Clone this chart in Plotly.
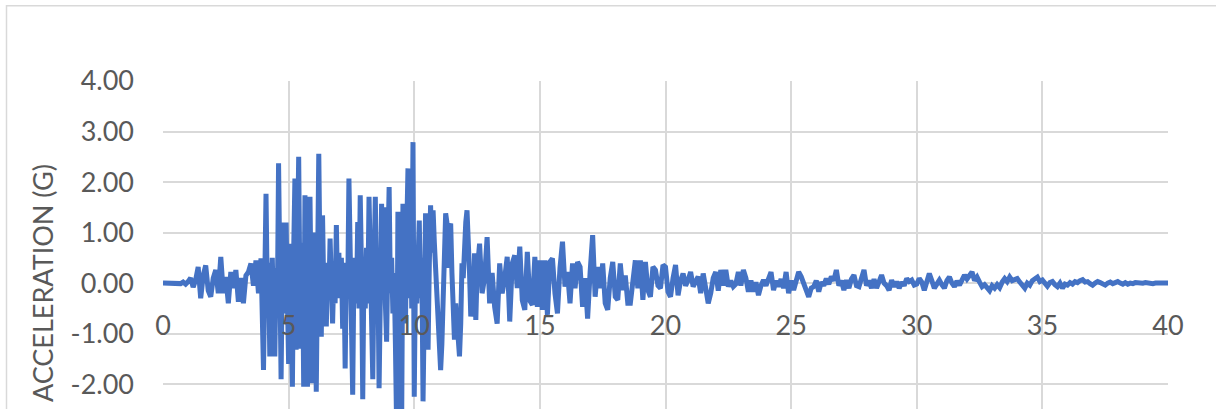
import numpy as np
import plotly.graph_objects as go

# Ground acceleration record (g). Each part has its own start time and sampling interval.
ONSET_START, ONSET_DT = 0.0, 0.1
onset_accel = [
    0.00, 0.00, 0.00, 0.00, 0.01, 0.00, 0.01, -0.01, 0.02, -0.02,
    0.03, 0.10, -0.08, 0.06, 0.32, -0.30, 0.15, 0.35, -0.15, -0.27,
    0.10, 0.26, -0.20, 0.52, -0.20, 0.12, -0.40, 0.22, -0.10, 0.26,
    -0.37, 0.10, -0.40, 0.15, 0.22, 0.39, -0.05, 0.45, -0.20, 0.49,
]

STRONG_START, STRONG_DT = 4.0, 0.05
strong_accel = [
    -1.72, 0.30, 1.77, -0.20, 0.40, -1.45, 0.20, 0.50, -0.60, -1.45,
    0.30, -0.50, 2.37, 0.20, -1.90, 0.40, 1.20, -0.60, 1.20, -0.30,
    -1.60, 0.78, -0.50, -2.05, 0.60, 2.07, -1.32, 0.40, 2.50, -0.30,
    -1.30, 0.80, -2.05, 1.74, 0.20, -2.05, 0.50, 1.71, -0.40, -1.98,
    1.00, 0.10, -2.15, 0.50, 2.56, 0.30, -1.06, 1.34, -0.20, 0.40,
    -0.86, 0.30, -0.30, 0.88, -0.20, -0.80, 0.20, -0.40, 1.15, -0.20,
    0.60, -0.30, 0.50, -0.90, 0.30, -1.69, 0.40, -0.30, 2.07, 0.20,
    -0.90, -2.21, 0.30, 0.50, -0.40, 1.21, -0.50, 1.74, 0.30, -2.30,
    0.40, -0.50, 0.70, -0.40, 1.71, 0.20, -0.60, -1.90, 0.30, 1.71,
    -0.20, 0.40, -2.08, 0.50, 1.57, -0.30, 1.50, -0.40, -1.16, 0.60,
    1.90, -0.20, 0.50, -0.60, 0.20, -1.20, -2.90, 1.41, -0.30, 0.60,
    -2.70, 1.57, -0.20, -0.80, 1.00, 2.27, -0.30, 1.30, -0.50, 2.79,
    -2.25, 0.30, -0.40, 1.11, 1.24, -0.30, 0.50, -2.34, 0.20, 1.38,
    0.10, -1.32, 0.40, 1.54, 0.60, 1.44, 0.80, 0.20, -0.50, -1.00,
    -1.40, -1.72, -1.20, -0.30, 0.60, 1.38, 1.20, 0.30, 1.10, 1.18,
    0.20, -0.60, -1.12, -0.40, -0.90, -1.20, -1.45, -0.80, 0.39, 0.10,
    0.80, 1.20, 1.44, 1.00, 0.20, -0.66, -0.30, -0.66, 0.59, -0.73,
]

CODA_START, CODA_DT = 12.5, 0.1
coda_accel = [
    0.20, 0.78, -0.20, 0.10, 0.91,
    -0.40, 0.20, -0.47, -0.80, 0.39, -0.20, 0.10, 0.52, -0.76, 0.39,
    0.55, -0.10, 0.72, -0.34, -0.53, 0.62, -0.35, -0.43, 0.52, -0.47,
    0.45, -0.53, 0.45, -0.63, 0.42, 0.49, -0.20, -0.60, 0.30, 0.82,
    -0.07, 0.22, -0.40, 0.39, -0.10, 0.42, 0.32, -0.47, 0.10, -0.70,
    0.22, 0.95, -0.27, 0.32, -0.10, 0.39, -0.40, -0.53, 0.10, 0.42,
    -0.27, -0.33, 0.39, -0.14, 0.15, -0.40, -0.40, 0.10, 0.45, -0.10,
    0.45, -0.33, 0.42, -0.14, -0.27, 0.32, 0.26, -0.05, -0.10, 0.36,
    0.32, -0.17, -0.27, 0.10, 0.36, -0.24, 0.05, 0.19, -0.05, 0.06,
    0.22, -0.07, 0.05, 0.13, -0.20, 0.19, -0.10, -0.40, -0.20, 0.10,
    0.22, -0.15, 0.26, -0.05, 0.26, -0.07, 0.05, -0.07, -0.02, 0.22,
    -0.05, 0.26, 0.10, -0.17, 0.05, -0.17, 0.02, -0.24, -0.05, 0.06,
    -0.05, 0.12, 0.22, -0.14, 0.05, -0.07, 0.08, -0.10, 0.22, -0.20,
    0.05, -0.14, 0.10, 0.22, 0.13, -0.05, -0.14, -0.27, -0.10, -0.07,
    0.05, -0.17, 0.02, -0.05, 0.09, -0.02, 0.13, 0.05, 0.26, -0.05,
    0.05, -0.14, 0.06, -0.10, 0.08, 0.16, -0.05, -0.07, 0.10, 0.26,
    -0.05, 0.05, -0.10, 0.08, -0.10, 0.05, 0.16, 0.00, -0.05, -0.14,
    0.06, -0.07, 0.03, -0.10, 0.02, -0.05, 0.09, 0.03, 0.06, -0.04,
    -0.02, 0.09, 0.02, -0.14, 0.03, 0.19, 0.05, -0.10, -0.02, 0.06,
    -0.03, -0.10, 0.05, 0.12, 0.00, -0.07, 0.04, -0.04, 0.06, 0.16,
    0.08, 0.15, 0.22, 0.05, 0.12, 0.02, -0.07, -0.03, -0.10, -0.15,
    -0.05, -0.10, -0.03, -0.09, 0.02, 0.09, 0.03, 0.12, 0.05, 0.07,
    0.09, 0.02, -0.05, -0.10, 0.00, -0.04, 0.05, 0.08, 0.12, 0.03,
    0.06, 0.00, -0.06, 0.01, 0.03, -0.03, -0.07, 0.00, -0.10, -0.02,
    -0.04, 0.01, -0.02, 0.03, 0.01, 0.05, 0.07, 0.02, 0.03, -0.01,
    -0.04, 0.00, 0.03, 0.01, -0.02, -0.04, 0.00, 0.02, -0.01, 0.01,
    0.03, 0.00, -0.02, 0.01, -0.02, 0.00, -0.01, 0.01, 0.00, 0.00,
    0.00, 0.01, 0.00, 0.00, -0.01, 0.00, 0.00, 0.00, 0.00, 0.00,
    0.00,
]

x_tick_vals = [0, 5, 10, 15, 20, 25, 30, 35, 40]
x_tick_text = ["0", "5", "10", "15", "20", "25", "30", "35", "40"]
y_tick_vals = [-4, -3, -2, -1, 0, 1, 2, 3, 4]
y_tick_text = ["-4.00", "-3.00", "-2.00", "-1.00", "0.00", "1.00", "2.00", "3.00", "4.00"]
y_title = "ACCELERATION (G)"


def sample_times(start, dt, values):
    return start + dt * np.arange(len(values))


time_s = np.concatenate([
    sample_times(ONSET_START, ONSET_DT, onset_accel),
    sample_times(STRONG_START, STRONG_DT, strong_accel),
    sample_times(CODA_START, CODA_DT, coda_accel),
])
accel_g = np.concatenate([onset_accel, strong_accel, coda_accel])

W, H = 1216, 409
M_L, M_R, M_T, M_B = 163, 48, 80.7, 0
Y_TOP = 4.0
PX_PER_G = 50.575
y_bottom = Y_TOP - (H - M_T - M_B) / PX_PER_G

FONT = "Lato, 'Open Sans', sans-serif"
TEXT_COLOR = "#595959"
GRID_COLOR = "#d9d9d9"
LINE_COLOR = "#4472C4"

fig = go.Figure(
    go.Scatter(
        x=time_s, y=accel_g, mode="lines",
        line=dict(color=LINE_COLOR, width=5),
        hoverinfo="skip",
    )
)

plot_w = W - M_L - M_R
plot_h = H - M_T - M_B

fig.update_layout(
    width=W, height=H,
    margin=dict(l=M_L, r=M_R, t=M_T, b=M_B, pad=0),
    paper_bgcolor="white", plot_bgcolor="white",
    showlegend=False,
    font=dict(family=FONT, size=27, color=TEXT_COLOR),
    xaxis=dict(
        range=[0, 40], tickmode="array", tickvals=x_tick_vals, ticktext=x_tick_text,
        showgrid=True, gridcolor=GRID_COLOR, gridwidth=2,
        zeroline=False, showline=False, ticks="",
        anchor="free", position=(0 - y_bottom) / (Y_TOP - y_bottom),
        ticklabelstandoff=24,
        tickfont=dict(family=FONT, size=27, color=TEXT_COLOR),
    ),
    yaxis=dict(
        range=[y_bottom, Y_TOP], tickmode="array", tickvals=y_tick_vals, ticktext=y_tick_text,
        showgrid=True, gridcolor=GRID_COLOR, gridwidth=2,
        zeroline=True, zerolinecolor=GRID_COLOR, zerolinewidth=2,
        showline=False, ticks="", ticklabelstandoff=28,
        tickfont=dict(family=FONT, size=27, color=TEXT_COLOR),
    ),
    annotations=[
        dict(
            text=y_title, textangle=-90, showarrow=False,
            xref="paper", x=(42 - M_L) / plot_w, xanchor="center",
            yref="y", y=0, yanchor="middle",
            font=dict(family=FONT, size=27, color=TEXT_COLOR),
        )
    ],
    shapes=[
        dict(
            type="rect", xref="paper", yref="paper",
            x0=(6.5 - M_L) / plot_w, x1=(W + 20 - M_L) / plot_w,
            y0=-0.2, y1=(H - 5.5) / plot_h,
            line=dict(color=GRID_COLOR, width=1.5), fillcolor="rgba(0,0,0,0)",
            layer="below",
        )
    ],
)

fig.write_html("out.html")
